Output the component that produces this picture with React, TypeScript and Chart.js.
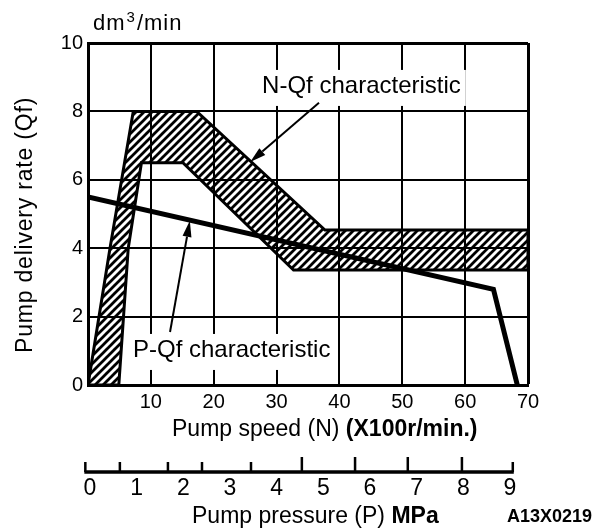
import React, { useEffect, useRef } from 'react';
import { Chart, registerables } from 'chart.js';

Chart.register(...registerables);

// ---- axes ----
const speedTicks = [0, 10, 20, 30, 40, 50, 60, 70];
const rateTicks = [0, 2, 4, 6, 8, 10];
const pressureLabels = [0, 1, 2, 3, 4, 5, 6, 7, 8, 9];
const pressureMinorMarks = [-0.1, 0.64, 1.67, 2.4, 3.45, 9.06];
const pressureMajorMarks = [4.54, 5.68, 6.81, 7.97];

// ---- N-Qf characteristic band (upper and lower boundaries) ----
const nqfUpperX = [0, 3.5, 7.2, 17.3, 37.7, 70];
const nqfUpperY = [0, 4, 8, 8, 4.53, 4.53];
const nqfLowerX = [4.9, 6.4, 8.5, 15.1, 32.7, 70];
const nqfLowerY = [0, 4, 6.5, 6.5, 3.36, 3.36];

// ---- P-Qf characteristic line ----
const pqfX = [0, 64.5, 68.3];
const pqfY = [5.5, 2.8, 0];

// ---- annotations (data coordinates) ----
const nqfLabel = 'N-Qf characteristic';
const nqfLabelAt = [27.7, 8.54];
const nqfArrowFrom = [36.75, 8.25];
const nqfArrowTo = [25.8, 6.52];
const pqfLabel = 'P-Qf characteristic';
const pqfLabelAt = [7.16, 0.82];
const pqfArrowFrom = [13.05, 1.55];
const pqfArrowTo = [16.2, 4.8];

const FAMILY = '"Liberation Sans", Arial, Helvetica, sans-serif';
const font = (size: number, bold = false) => `${bold ? 'bold ' : ''}${size}px ${FAMILY}`;

function makeHatch(): CanvasPattern | string {
  const size = 8;
  const c = document.createElement('canvas');
  c.width = size;
  c.height = size;
  const g = c.getContext('2d');
  if (!g) return 'rgba(0,0,0,0.4)';
  g.strokeStyle = '#000';
  g.lineWidth = 2.8;
  g.beginPath();
  g.moveTo(-1, size + 1);
  g.lineTo(size + 1, -1);
  g.moveTo(-3, 3);
  g.lineTo(3, -3);
  g.moveTo(size - 3, size + 3);
  g.lineTo(size + 3, size - 3);
  g.stroke();
  return g.createPattern(c, 'repeat') || 'rgba(0,0,0,0.4)';
}

function drawArrow(ctx: CanvasRenderingContext2D, x1: number, y1: number, x2: number, y2: number) {
  const ang = Math.atan2(y2 - y1, x2 - x1);
  const len = 16;
  const hw = 4.5;
  const bx = x2 - len * Math.cos(ang);
  const by = y2 - len * Math.sin(ang);
  ctx.beginPath();
  ctx.moveTo(x1, y1);
  ctx.lineTo(bx, by);
  ctx.lineWidth = 2;
  ctx.strokeStyle = '#000';
  ctx.stroke();
  ctx.beginPath();
  ctx.moveTo(x2, y2);
  ctx.lineTo(bx + hw * Math.sin(ang), by - hw * Math.cos(ang));
  ctx.lineTo(bx - hw * Math.sin(ang), by + hw * Math.cos(ang));
  ctx.closePath();
  ctx.fillStyle = '#000';
  ctx.fill();
}

const decorPlugin = {
  id: 'decor',
  afterDraw(chart: any) {
    const ctx: CanvasRenderingContext2D = chart.ctx;
    const sx = chart.scales.x;
    const sy = chart.scales.y;
    const sp = chart.scales.xp;
    ctx.save();
    ctx.fillStyle = '#000';
    ctx.strokeStyle = '#000';

    // labelled boxes with white background
    const labels: [string, number[]][] = [
      [nqfLabel, nqfLabelAt],
      [pqfLabel, pqfLabelAt],
    ];
    ctx.font = font(24);
    ctx.textAlign = 'left';
    ctx.textBaseline = 'alphabetic';
    for (const [txt, at] of labels) {
      const px = sx.getPixelForValue(at[0]);
      const py = sy.getPixelForValue(at[1]);
      const w = ctx.measureText(txt).width;
      ctx.fillStyle = '#fff';
      ctx.fillRect(px - 5, py - 23, w + 10, 36);
      ctx.fillStyle = '#000';
      ctx.fillText(txt, px, py);
    }

    drawArrow(
      ctx,
      sx.getPixelForValue(nqfArrowFrom[0]), sy.getPixelForValue(nqfArrowFrom[1]),
      sx.getPixelForValue(nqfArrowTo[0]), sy.getPixelForValue(nqfArrowTo[1])
    );
    drawArrow(
      ctx,
      sx.getPixelForValue(pqfArrowFrom[0]), sy.getPixelForValue(pqfArrowFrom[1]),
      sx.getPixelForValue(pqfArrowTo[0]), sy.getPixelForValue(pqfArrowTo[1])
    );

    // pressure axis line and marks
    const ay = sp.top;
    const all = [...pressureMinorMarks, ...pressureMajorMarks];
    const lo = Math.min(...all);
    const hi = Math.max(...all);
    ctx.beginPath();
    ctx.lineWidth = 3.5;
    ctx.moveTo(sp.getPixelForValue(lo) - 1, ay);
    ctx.lineTo(sp.getPixelForValue(hi) + 1, ay);
    ctx.stroke();
    ctx.lineWidth = 2.5;
    ctx.beginPath();
    for (const v of pressureMinorMarks) {
      const px = sp.getPixelForValue(v);
      ctx.moveTo(px, ay);
      ctx.lineTo(px, ay - 10);
    }
    for (const v of pressureMajorMarks) {
      const px = sp.getPixelForValue(v);
      ctx.moveTo(px, ay);
      ctx.lineTo(px, ay - 15);
    }
    ctx.stroke();

    // unit label
    ctx.fillStyle = '#000';
    ctx.save();
    (ctx as any).letterSpacing = '1px';
    ctx.font = font(22);
    ctx.fillText('dm', 93, 30);
    let cx = 93 + ctx.measureText('dm').width;
    ctx.font = font(15);
    ctx.fillText('3', cx + 1, 22);
    cx += ctx.measureText('3').width + 2;
    ctx.font = font(22);
    ctx.fillText('/min', cx, 30);
    ctx.restore();

    // y title
    ctx.save();
    ctx.translate(32, 353);
    ctx.rotate(-Math.PI / 2);
    ctx.font = font(23);
    (ctx as any).letterSpacing = '0.8px';
    ctx.fillText('Pump delivery rate (Qf)', 0, 0);
    ctx.restore();

    // x title
    ctx.font = font(23);
    const t1 = 'Pump speed (N) ';
    ctx.fillText(t1, 172, 436);
    const w1 = ctx.measureText(t1).width;
    ctx.font = font(23, true);
    ctx.fillText('(X100r/min.)', 172 + w1, 436);

    // pressure title
    ctx.font = font(23);
    const t2 = 'Pump pressure (P) ';
    ctx.fillText(t2, 192, 523);
    const w2 = ctx.measureText(t2).width;
    ctx.font = font(23, true);
    ctx.fillText('MPa', 192 + w2, 523);

    // figure code
    ctx.font = font(18, true);
    ctx.fillText('A13X0219', 507, 522);

    ctx.restore();
  },
};

export default function App() {
  const ref = useRef<HTMLCanvasElement | null>(null);

  useEffect(() => {
    if (!ref.current) return;
    const hatch = makeHatch();
    const bandPoints = [
      ...nqfUpperX.map((x, i) => ({ x, y: nqfUpperY[i] })),
      ...nqfLowerX.map((x, i) => ({ x, y: nqfLowerY[i] })).reverse(),
      { x: nqfUpperX[0], y: nqfUpperY[0] },
    ];
    const pqfPoints = pqfX.map((x, i) => ({ x, y: pqfY[i] }));

    const chart = new Chart(ref.current, {
      type: 'scatter',
      data: {
        datasets: [
          {
            label: 'P-Qf characteristic',
            data: pqfPoints,
            showLine: true,
            borderColor: '#000',
            borderWidth: 5,
            pointRadius: 0,
            fill: false,
            tension: 0,
            borderJoinStyle: 'miter',
            xAxisID: 'x',
            yAxisID: 'y',
          } as any,
          {
            label: 'N-Qf characteristic',
            data: bandPoints,
            showLine: true,
            borderColor: '#000',
            borderWidth: 3,
            backgroundColor: hatch,
            pointRadius: 0,
            fill: 'shape',
            tension: 0,
            borderJoinStyle: 'miter',
            xAxisID: 'x',
            yAxisID: 'y',
          } as any,
        ],
      },
      options: {
        animation: false,
        responsive: false,
        maintainAspectRatio: false,
        devicePixelRatio: 1,
        layout: { padding: { left: 0, right: 74, top: 43, bottom: 0 } },
        plugins: {
          legend: { display: false },
          tooltip: { enabled: false },
        },
        events: [],
        scales: {
          x: {
            type: 'linear',
            position: 'bottom',
            min: 0,
            max: 70,
            weight: 0,
            afterBuildTicks: (s: any) => {
              s.ticks = speedTicks.map((v) => ({ value: v }));
            },
            afterFit: (s: any) => {
              s.height = 87;
            },
            grid: {
              color: '#000',
              lineWidth: (c: any) => (c.tick && c.tick.value === 70 ? 3 : 2),
              drawTicks: false,
            },
            border: { display: true, color: '#000', width: 3 },
            ticks: {
              color: '#000',
              font: { family: FAMILY, size: 20 },
              padding: 5,
              autoSkip: false,
              maxRotation: 0,
              callback: (v: any) => (Number(v) === 0 ? '' : String(v)),
            },
          },
          xp: {
            type: 'linear',
            axis: 'x',
            position: 'bottom',
            min: -0.0429,
            max: 9.386,
            weight: 1,
            afterBuildTicks: (s: any) => {
              s.ticks = pressureLabels.map((v) => ({ value: v }));
            },
            afterFit: (s: any) => {
              s.height = 60;
            },
            grid: { display: false, drawTicks: false },
            border: { display: false },
            ticks: {
              color: '#000',
              font: { family: FAMILY, size: 23 },
              padding: 3,
              autoSkip: false,
              maxRotation: 0,
              callback: (v: any) => String(v),
            },
          },
          y: {
            type: 'linear',
            position: 'left',
            min: 0,
            max: 10,
            afterBuildTicks: (s: any) => {
              s.ticks = rateTicks.map((v) => ({ value: v }));
            },
            afterFit: (s: any) => {
              s.width = 88;
            },
            grid: {
              color: '#000',
              lineWidth: (c: any) => (c.tick && c.tick.value === 10 ? 3 : 2),
              drawTicks: false,
            },
            border: { display: true, color: '#000', width: 3 },
            ticks: {
              color: '#000',
              font: { family: FAMILY, size: 20 },
              padding: 5,
              autoSkip: false,
              callback: (v: any) => String(v),
            },
          },
        },
      } as any,
      plugins: [decorPlugin],
    });
    return () => chart.destroy();
  }, []);

  return (
    <div style={{ position: 'absolute', left: 0, top: 0, width: 602, height: 532, background: '#fff' }}>
      <canvas ref={ref} width={602} height={532} style={{ display: 'block', width: 602, height: 532 }} />
    </div>
  );
}
